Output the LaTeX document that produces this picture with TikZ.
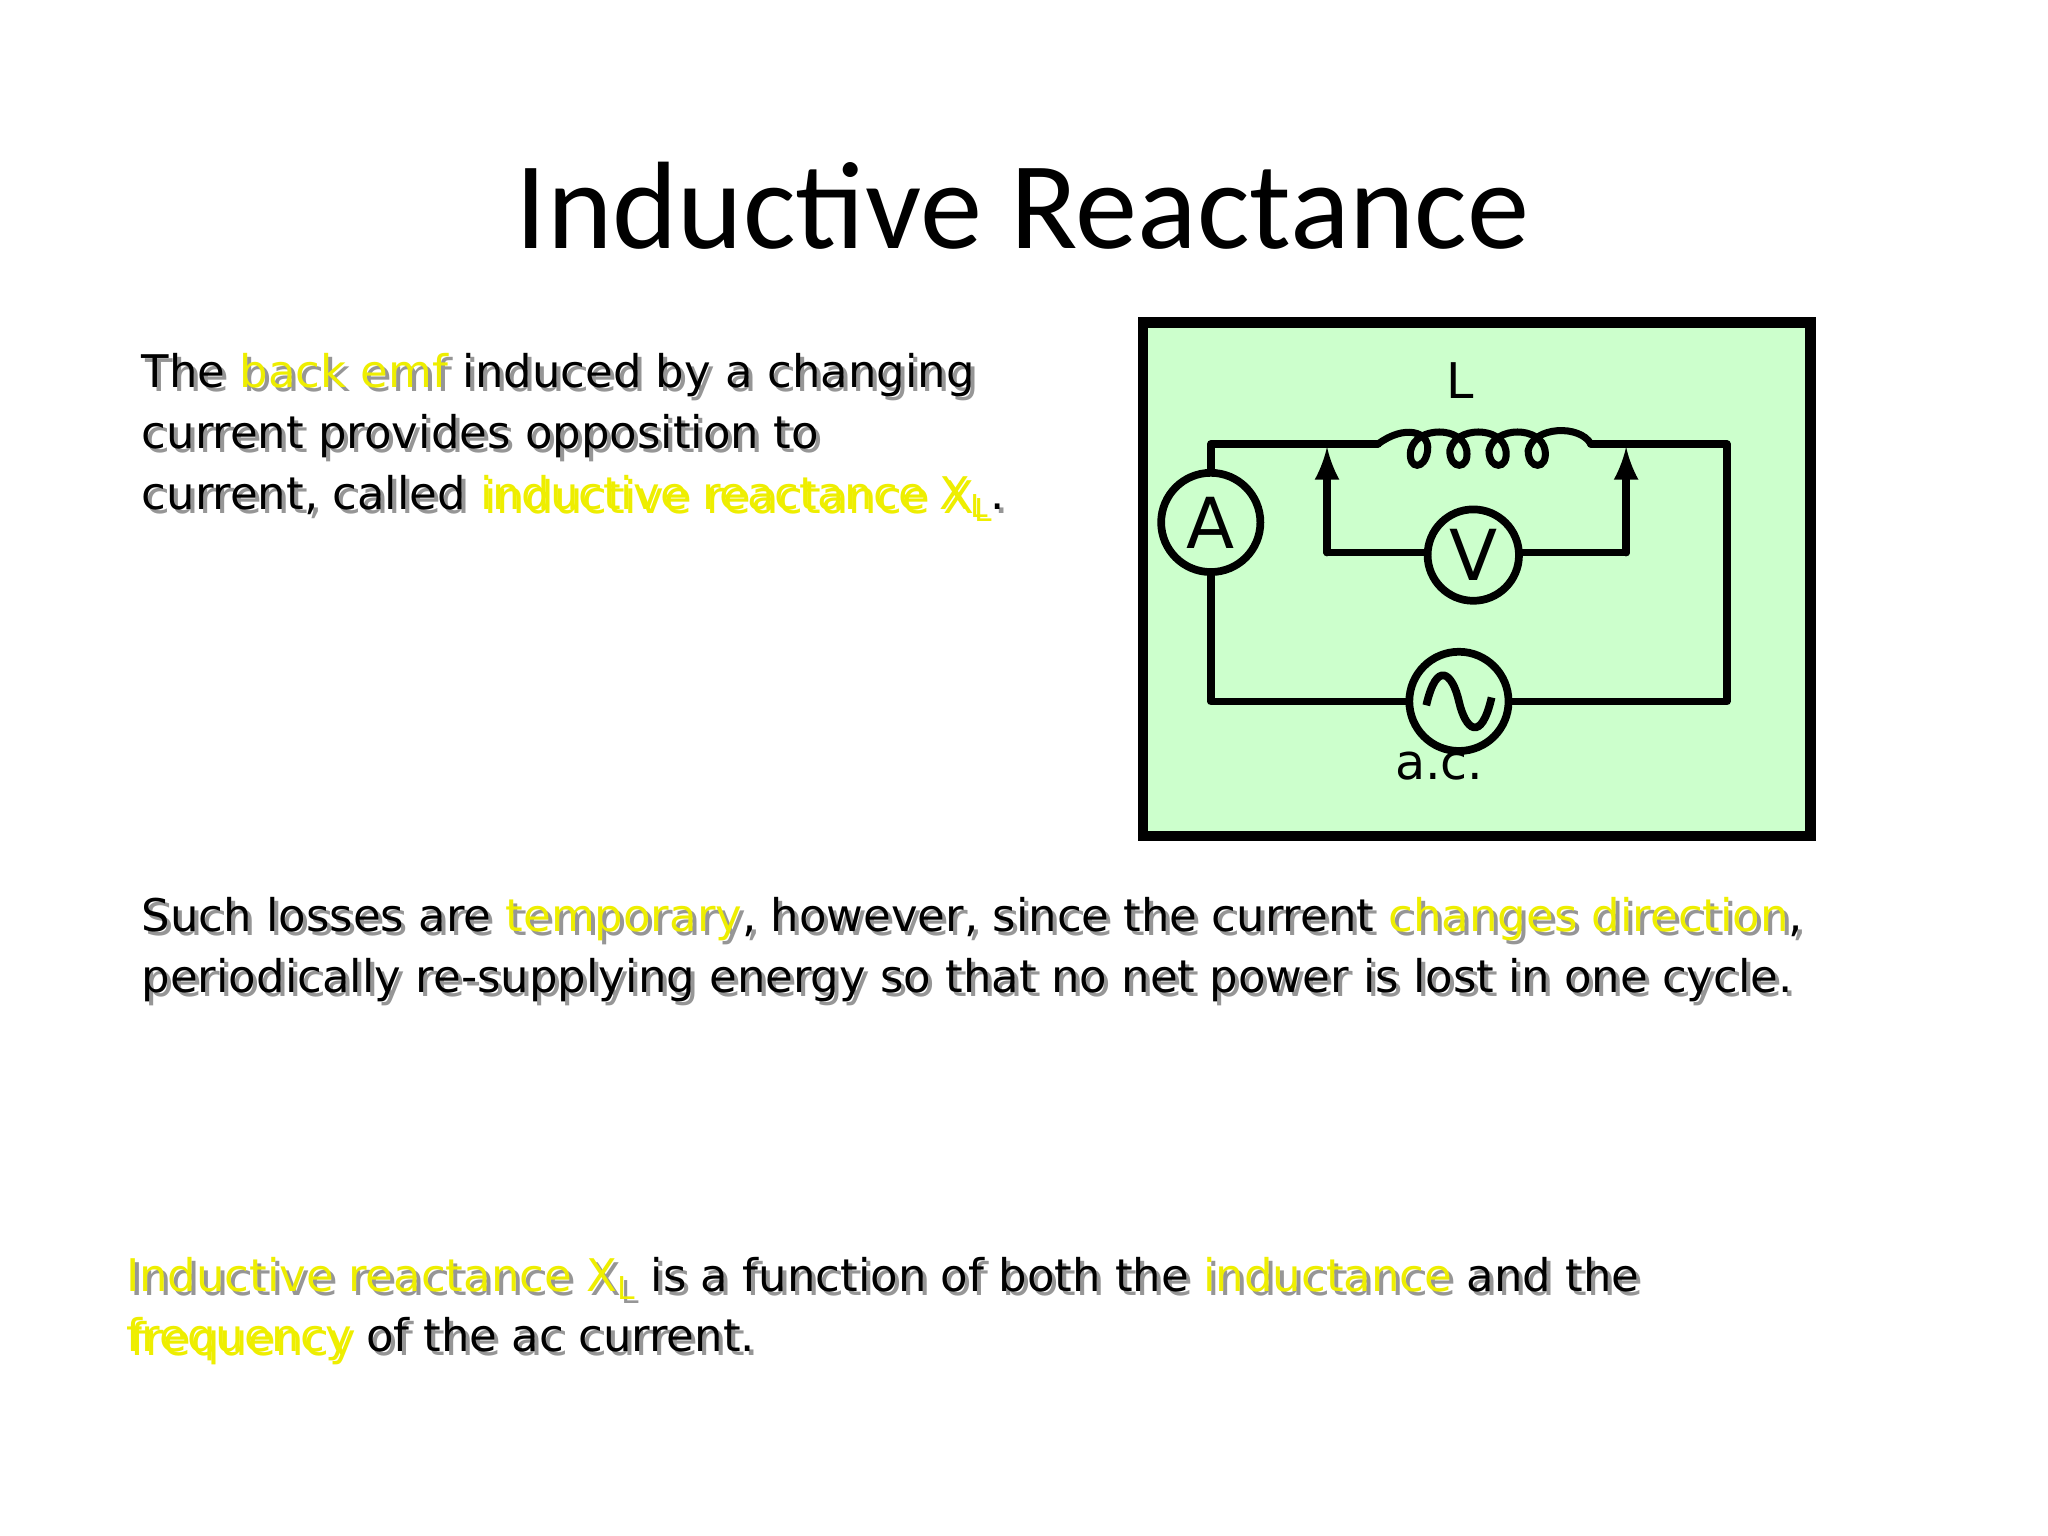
\documentclass[tikz,border=0pt]{standalone}
\usepackage{fontspec}
\setmainfont{DejaVu Sans}
\newfontfamily\titlefont{Carlito}
\definecolor{yel}{RGB}{238,238,0}
\definecolor{shad}{RGB}{150,150,150}
\definecolor{boxg}{RGB}{204,255,204}
\newcommand\ycol{yel}
\newcommand\Y[1]{\textcolor{\ycol}{#1}}
\newcommand\stext[3]{%
 \node[txt,text=shad,xshift=0.04cm,yshift=-0.04cm] at (#2) {\def\ycol{shad}#3};
 \node[txt] (#1) at (#2) {#3};}
\begin{document}
\begin{tikzpicture}[x=0.01306cm,y=-0.01306cm,
 txt/.style={anchor=base west,inner sep=0,align=left,font=\fontsize{12.8}{17.3}\selectfont},
 wire/.style={line width=2.2pt,line cap=round,line join=round},
 meter/.style={circle,draw,line width=2.2pt,fill=boxg,minimum size=#1,inner sep=0}]
\useasboundingbox (0,0) rectangle (1568,1176);
\fill[white] (0,0) rectangle (1568,1176);
\node[anchor=base,font=\titlefont\fontsize{35.4}{40}\selectfont] (title) at (783,190) {Inductive Reactance};
\stext{p1}{108,390}{The \Y{back emf} induced by a changing\\current provides opposition to\\current, called \Y{inductive reactance X\textsubscript{L}}.}
\stext{p2}{108,760}{Such losses are \Y{temporary}, however, since the current \Y{changes direction},\\periodically re-supplying energy so that no net power is lost in one cycle.}
\stext{p3}{96,1035}{\Y{Inductive reactance X\textsubscript{L}} is a function of both the \Y{inductance} and the\\\Y{frequency} of the ac current.}
% circuit
\draw[line width=3pt,fill=boxg] (875,247) rectangle (1386,640);
\coordinate (tl) at (927,340); \coordinate (tr) at (1322,340);
\coordinate (bl) at (927,537); \coordinate (br) at (1322,537);
\coordinate (ls) at (1055,340); \coordinate (le) at (1218,340);
\draw[wire] (ls) -- (tl) -- (bl) -- (br) -- (tr) -- (le);
\draw[line width=2pt] (ls) .. controls (1075,325) and (1095,330) .. (1093,345)
 .. controls (1091,360) and (1078,360) .. (1080,345)
 .. controls (1084,326) and (1120,326) .. (1123,345)
 .. controls (1125,360) and (1110,360) .. (1110,345)
 .. controls (1114,326) and (1150,326) .. (1153,345)
 .. controls (1155,360) and (1140,360) .. (1140,345)
 .. controls (1144,326) and (1180,326) .. (1183,345)
 .. controls (1185,360) and (1170,360) .. (1170,345)
 .. controls (1174,326) and (1210,325) .. (le);
\node[meter=76pt*0.01306/0.03515] (A) at (927,400) {};
\node[font=\fontsize{20}{20}\selectfont] at (A) {A};
\coordinate (va) at (1016,342); \coordinate (vb) at (1245,342);
\draw[wire,-latex] (1016,423) -- (va);
\draw[wire,-latex] (1245,423) -- (vb);
\draw[wire] (1016,423) -- (1245,423);
\node[meter=70pt*0.01306/0.03515] (V) at (1128,425) {};
\node[font=\fontsize{20}{20}\selectfont] at (V) {V};
\node[meter=76pt*0.01306/0.03515] (ac) at (1117,537) {};
\draw[line width=2.2pt] (1092,540) .. controls (1100,505) and (1112,515) .. (1117,537) .. controls (1122,559) and (1134,569) .. (1142,534);
\node[font=\fontsize{14}{14}\selectfont,anchor=base] (Ll) at (1118,305) {L};
\node[font=\fontsize{14}{14}\selectfont,anchor=base] (acl) at (1102,597) {a.c.};
\end{tikzpicture}
\end{document}
